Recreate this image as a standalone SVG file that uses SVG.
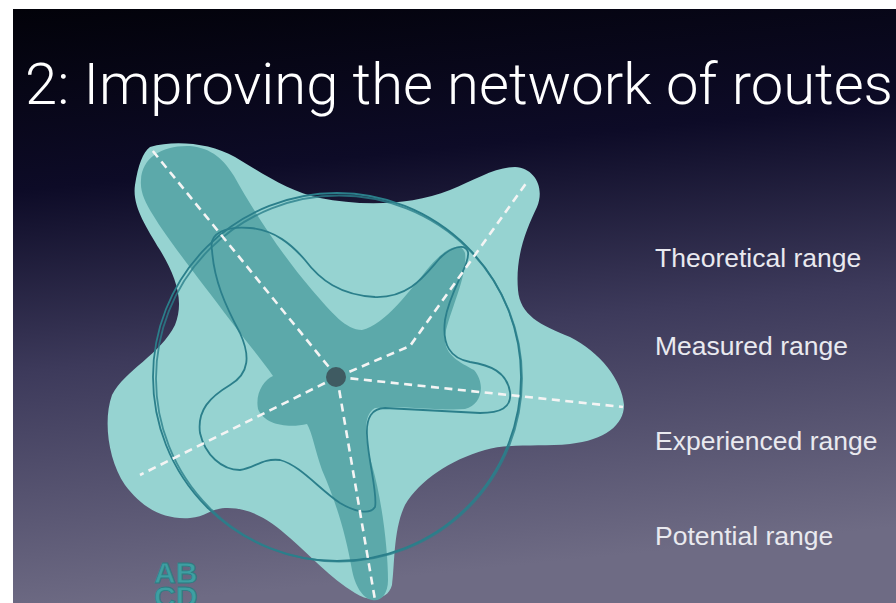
<svg xmlns="http://www.w3.org/2000/svg" width="896" height="603" viewBox="0 0 896 603">
  <defs>
    <linearGradient id="bg" x1="0" y1="0" x2="0.15" y2="1">
      <stop offset="0" stop-color="#020209"/>
      <stop offset="0.3" stop-color="#0d0b27"/>
      <stop offset="0.6" stop-color="#3d3a5b"/>
      <stop offset="1" stop-color="#6e6b84"/>
    </linearGradient>
    <style>
      .title { font-family: Roboto, "Liberation Sans", Arial, sans-serif; font-weight: 300; font-size: 57px; fill: #ffffff; }
      .label { font-family: "Liberation Sans", Arial, sans-serif; font-size: 26.5px; fill: #e9e9ef; }
      .potential { fill: #96d3d1; }
      .core { fill: #5ca9aa; }
      .outline { fill: none; stroke: #2b7f8b; stroke-width: 1.8; }
      .route { fill: none; stroke: #f4f4f4; stroke-width: 2.6; stroke-dasharray: 8 5.5; }
      .logo { font-family: "Liberation Sans", Arial, sans-serif; font-weight: bold; font-size: 30px; fill: #3e9fa2; stroke: #2c7d83; stroke-width: 0.8; }
    </style>
  </defs>

  <!-- slide area with white margins -->
  <rect x="0" y="0" width="896" height="603" fill="#ffffff"/>
  <rect x="13" y="9" width="883" height="594" fill="url(#bg)"/>

  <text class="title" x="25" y="104" textLength="868" lengthAdjust="spacingAndGlyphs">2: Improving the network of routes</text>

  <!-- potential range: outer light blob -->
  <g id="potential-range">
    <path class="potential" d="M 150,147 C 175,140 210,143 235,157 C 265,175 290,192 320,198 C 360,206 410,206 450,190 C 475,180 495,167 515,167 C 535,168 545,188 537,207 C 527,228 515,255 518,290 C 520,315 540,325 570,337 C 600,352 622,380 624,405 C 624,425 605,440 570,444 C 540,447 510,443 485,450 C 450,460 420,480 405,505 C 393,530 395,565 392,585 C 388,600 370,603 355,593 C 330,578 310,555 290,538 C 270,520 250,507 225,508 C 210,509 205,517 190,518 C 160,520 140,505 125,485 C 108,460 103,420 112,395 C 125,370 160,355 175,325 C 185,300 175,275 160,250 C 145,225 132,205 135,185 C 138,165 143,152 150,147 Z"/>
  </g>

  <!-- theoretical range: darker route-shaped core -->
  <g id="theoretical-range">
    <path class="core" d="M 141,180 C 142,157 163,145 190,146 C 212,148 224,160 234,176 C 254,212 282,255 312,290 C 332,313 346,330 362,330 C 385,325 410,290 430,266 C 445,249 460,240 465,253 C 468,275 450,310 445,335 C 443,355 460,362 474,370 C 486,384 482,405 465,409 C 440,411 400,405 375,408 C 362,415 365,440 372,465 C 382,500 388,550 388,580 C 388,595 380,602 372,600 C 362,598 355,585 352,570 C 345,530 335,500 322,470 C 315,450 312,432 307,424 C 290,428 265,426 258,409 C 255,393 264,380 273,376 C 262,360 245,340 230,320 C 200,280 168,240 153,215 C 145,202 140,192 141,180 Z"/>
  </g>

  <!-- experienced range: wavy outline -->
  <g id="experienced-range">
    <path class="outline" d="M 212,250 C 208,232 228,226 250,228 C 275,230 292,245 305,260 C 320,280 340,295 375,297 C 410,298 425,275 440,258 C 450,248 465,242 468,252 C 470,265 450,290 445,320 C 442,345 450,358 470,362 C 490,365 507,372 510,392 C 512,408 500,413 480,413 L 385,408 C 372,408 366,418 367,435 C 368,460 378,495 375,507 C 370,515 355,512 340,503 C 320,490 300,465 280,460 C 262,458 255,468 240,470 C 222,470 205,455 200,433 C 197,410 210,397 230,385 C 250,373 250,355 240,333 C 225,305 214,280 212,250 Z"/>
  </g>

  <!-- measured range: circle -->
  <g id="measured-range">
    <circle class="outline" cx="337" cy="377" r="184"/>
    <circle class="outline" cx="339" cy="378.5" r="183" stroke-width="1" opacity="0.8"/>
  </g>

  <!-- routes radiating from the centre -->
  <g id="connectors">
    <line class="route" x1="337" y1="377" x2="152" y2="150"/>
    <polyline class="route" points="337,377 410,346 527,182"/>
    <line class="route" x1="337" y1="377" x2="623" y2="407"/>
    <line class="route" x1="337" y1="377" x2="140" y2="475"/>
    <line class="route" x1="337" y1="377" x2="375" y2="600"/>
  </g>

  <g id="centre">
    <circle cx="336" cy="377" r="10" fill="#3f5b62"/>
  </g>

  <g id="labels">
    <text class="label" x="655" y="267">Theoretical range</text>
    <text class="label" x="655" y="355">Measured range</text>
    <text class="label" x="655" y="450">Experienced range</text>
    <text class="label" x="655" y="545">Potential range</text>
  </g>

  <g id="logo">
    <text class="logo" x="154" y="583">AB</text>
    <text class="logo" x="154" y="607">CD</text>
  </g>
</svg>
